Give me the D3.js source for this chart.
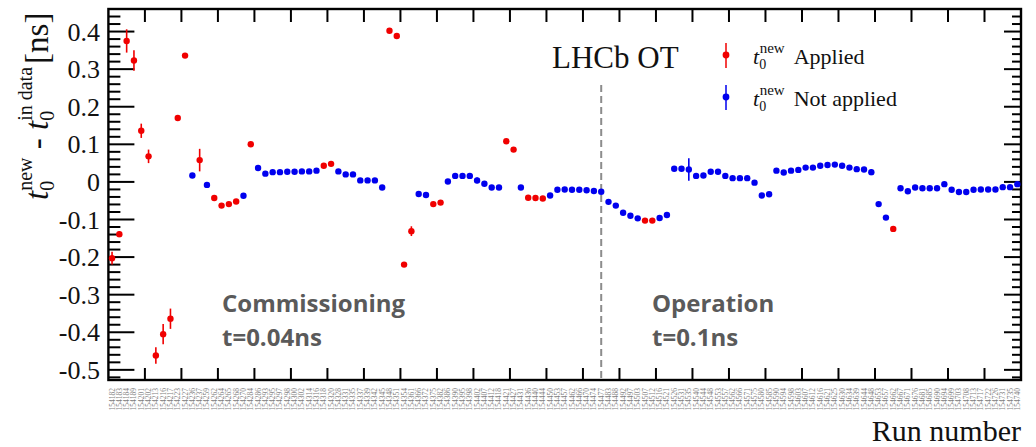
<!DOCTYPE html>
<html>
<head>
<meta charset="utf-8">
<script src="https://cdn.jsdelivr.net/npm/d3@7"></script>
<style>
  html, body { margin: 0; padding: 0; background: #fff; }
  svg { display: block; }
</style>
</head>
<body>
<svg id="chart" width="1036" height="447"></svg>
<script>
// Run numbers on the horizontal axis (one bin per run)
const runs = [
  "154182","154183","154184","154189","154201","154202","154213","154216","154217","154223",
  "154227","154236","154237","154259","154262","154264","154265","154268","154270","154284",
  "154286","154293","154295","154297","154298","154300","154302","154314","154316","154318",
  "154320","154328","154331","154335","154337","154339","154342","154345","154348","154351",
  "154354","154361","154366","154372","154375","154382","154386","154390","154395","154398",
  "154402","154407","154412","154418","154421","154427","154431","154436","154440","154444",
  "154450","154453","154457","154462","154466","154470","154474","154477","154483","154488",
  "154492","154497","154503","154507","154512","154516","154521","154526","154531","154535",
  "154540","154544","154548","154553","154557","154562","154566","154571","154575","154580",
  "154585","154590","154594","154598","154603","154607","154612","154616","154621","154625",
  "154630","154634","154639","154644","154648","154653","154657","154662","154667","154671",
  "154676","154681","154685","154690","154694","154699","154703","154708","154713","154717",
  "154722","154726","154731","154735","154740"
];

// t0(new) - t0(in data) per run, in ns
const offsets = [
  -0.203,-0.139, 0.375, 0.323, 0.136, 0.068,-0.462,-0.405,-0.364, 0.170,
   0.336, 0.017, 0.058,-0.008,-0.043,-0.063,-0.059,-0.052,-0.037, 0.100,
   0.037, 0.022, 0.026, 0.026, 0.027, 0.027, 0.028, 0.028, 0.030, 0.043,
   0.048, 0.028, 0.020, 0.020, 0.004, 0.004, 0.004,-0.015, 0.402, 0.388,
  -0.220,-0.131,-0.032,-0.035,-0.059,-0.055, 0.001, 0.016, 0.016, 0.016,
   0.004,-0.005,-0.015,-0.015, 0.108, 0.086,-0.015,-0.042,-0.043,-0.044,
  -0.036,-0.021,-0.020,-0.021,-0.021,-0.022,-0.024,-0.026,-0.053,-0.063,
  -0.082,-0.090,-0.097,-0.103,-0.103,-0.096,-0.088, 0.035, 0.035, 0.033,
   0.016, 0.017, 0.027, 0.027, 0.016, 0.010, 0.010, 0.010,-0.002,-0.036,
  -0.033, 0.030, 0.025, 0.030, 0.032, 0.038, 0.038, 0.043, 0.045, 0.046,
   0.043, 0.038, 0.034, 0.033, 0.026,-0.059,-0.095,-0.125,-0.017,-0.025,
  -0.015,-0.017,-0.017,-0.017,-0.006,-0.021,-0.027,-0.027,-0.021,-0.020,
  -0.020,-0.020,-0.014,-0.014,-0.006
];

// Statistical uncertainty on each offset, in ns
const errors = [
  0.017,0.008,0.031,0.027,0.019,0.018,0.022,0.027,0.027,0.008,
  0.006,0.004,0.030,0.004,0.005,0.005,0.005,0.005,0.004,0.006,
  0.004,0.003,0.003,0.003,0.003,0.003,0.003,0.003,0.003,0.004,
  0.004,0.003,0.003,0.003,0.003,0.003,0.003,0.004,0.005,0.005,
  0.006,0.013,0.004,0.004,0.005,0.005,0.004,0.003,0.003,0.003,
  0.008,0.003,0.003,0.003,0.005,0.005,0.003,0.004,0.004,0.004,
  0.003,0.003,0.003,0.003,0.003,0.003,0.003,0.003,0.003,0.003,
  0.003,0.003,0.003,0.004,0.004,0.003,0.003,0.004,0.004,0.030,
  0.004,0.003,0.003,0.003,0.003,0.003,0.003,0.003,0.003,0.004,
  0.004,0.003,0.003,0.003,0.003,0.003,0.003,0.003,0.003,0.003,
  0.003,0.003,0.003,0.003,0.008,0.005,0.004,0.004,0.003,0.003,
  0.003,0.003,0.003,0.003,0.003,0.003,0.003,0.003,0.003,0.003,
  0.003,0.003,0.003,0.003,0.004
];

// 1 = new t0 applied, 0 = not applied
const applied = [
  1,1,1,1,1,1,1,1,1,1,
  1,0,1,0,1,1,1,1,0,1,
  0,0,0,0,0,0,0,0,0,1,
  1,0,0,0,0,0,0,0,1,1,
  1,1,0,0,1,1,0,0,0,0,
  0,0,0,0,1,1,0,1,1,1,
  0,0,0,0,0,0,0,0,0,0,
  0,0,0,1,1,0,0,0,0,0,
  0,0,0,0,0,0,0,0,0,0,
  0,0,0,0,0,0,0,0,0,0,
  0,0,0,0,0,0,0,1,0,0,
  0,0,0,0,0,0,0,0,0,0,
  0,0,0,0,0
];

const yTicks = [-0.5, -0.4, -0.3, -0.2, -0.1, 0, 0.1, 0.2, 0.3, 0.4];
const yTickLabels = ["-0.5","-0.4","-0.3","-0.2","-0.1","0","0.1","0.2","0.3","0.4"];
const yDomain = [-0.527, 0.46];
const boundaryRun = "154477";   // first run of the operation period

const COLOR_APPLIED = "#f00000";
const COLOR_NOT = "#0000ee";
const serif = "'Liberation Serif', 'DejaVu Serif', serif";
const sans = "'Open Sans', Lato, sans-serif";

const frame = { left: 108.4, right: 1021, top: 9, bottom: 380 };

const svg = d3.select("#chart");

const x = d3.scaleBand().domain(runs).range([frame.left, frame.right]).padding(0);
const y = d3.scaleLinear().domain(yDomain).range([frame.bottom, frame.top]);
const cx = r => x(r) + x.bandwidth() / 2;

const points = runs.map((r, i) => ({ run: r, v: offsets[i], e: errors[i], a: applied[i] === 1 }));

// x axis ticks every fifth run, bottom and top
const xTickRuns = runs.filter((d, i) => i > 0 && i % 5 === 0);
const gx = svg.append("g");
gx.selectAll("line.bt").data(xTickRuns).join("line")
  .attr("x1", d => x(d)).attr("x2", d => x(d))
  .attr("y1", frame.bottom).attr("y2", frame.bottom - 12)
  .attr("stroke", "#000").attr("stroke-width", 2);
gx.selectAll("line.tp").data(xTickRuns).join("line")
  .attr("x1", d => x(d)).attr("x2", d => x(d))
  .attr("y1", frame.top).attr("y2", frame.top + 13)
  .attr("stroke", "#000").attr("stroke-width", 2);

// y axis: major and minor ticks on both sides
const minorTicks = d3.range(-0.52, 0.46, 0.02).map(v => +v.toFixed(2))
  .filter(v => yTicks.every(t => Math.abs(t - v) > 1e-6));
const gy = svg.append("g");
gy.selectAll("line.lmaj").data(yTicks).join("line")
  .attr("x1", frame.left).attr("x2", frame.left + 26)
  .attr("y1", d => y(d)).attr("y2", d => y(d))
  .attr("stroke", "#000").attr("stroke-width", 2);
gy.selectAll("line.lmin").data(minorTicks).join("line")
  .attr("x1", frame.left).attr("x2", frame.left + 12)
  .attr("y1", d => y(d)).attr("y2", d => y(d))
  .attr("stroke", "#000").attr("stroke-width", 2);
gy.selectAll("line.rmaj").data(yTicks).join("line")
  .attr("x1", frame.right).attr("x2", frame.right - 17)
  .attr("y1", d => y(d)).attr("y2", d => y(d))
  .attr("stroke", "#000").attr("stroke-width", 2);
gy.selectAll("line.rmin").data(minorTicks).join("line")
  .attr("x1", frame.right).attr("x2", frame.right - 9)
  .attr("y1", d => y(d)).attr("y2", d => y(d))
  .attr("stroke", "#000").attr("stroke-width", 2);

gy.selectAll("text.yl").data(yTicks).join("text")
  .attr("x", 100).attr("y", d => y(d)).attr("dy", "0.35em")
  .attr("text-anchor", "end")
  .attr("font-family", serif).attr("font-size", 26).attr("fill", "#111")
  .text((d, i) => yTickLabels[i]);

// run-number labels under each bin
svg.append("g").selectAll("text").data(runs).join("text")
  .attr("transform", d => `translate(${cx(d) + 2.5},388) rotate(-90)`)
  .attr("text-anchor", "end")
  .attr("font-family", serif).attr("font-size", 7.5).attr("fill", "#808080")
  .text(d => d);

// frame
svg.append("rect")
  .attr("x", frame.left).attr("y", frame.top)
  .attr("width", frame.right - frame.left).attr("height", frame.bottom - frame.top)
  .attr("fill", "none").attr("stroke", "#000").attr("stroke-width", 2.4);

// commissioning / operation boundary
const xb = cx(boundaryRun);
svg.append("line")
  .attr("x1", xb).attr("x2", xb).attr("y1", 85).attr("y2", frame.bottom)
  .attr("stroke", "#8c8c8c").attr("stroke-width", 2).attr("stroke-dasharray", "7,4");

// data points with error bars
const gp = svg.append("g");
gp.selectAll("line").data(points).join("line")
  .attr("x1", d => cx(d.run)).attr("x2", d => cx(d.run))
  .attr("y1", d => y(d.v - d.e)).attr("y2", d => y(d.v + d.e))
  .attr("stroke", d => d.a ? COLOR_APPLIED : COLOR_NOT).attr("stroke-width", 1.6);
gp.selectAll("circle").data(points).join("circle")
  .attr("cx", d => cx(d.run)).attr("cy", d => y(d.v)).attr("r", 3.2)
  .attr("fill", d => d.a ? COLOR_APPLIED : COLOR_NOT);

// "LHCb OT"
svg.append("text").attr("x", 552).attr("y", 68)
  .attr("font-family", serif).attr("font-size", 31).attr("fill", "#111")
  .text("LHCb OT");

// legend
const legend = [
  { label: "Applied", color: COLOR_APPLIED, y: 55 },
  { label: "Not applied", color: COLOR_NOT, y: 97 }
];
const lg = svg.append("g").selectAll("g").data(legend).join("g");
lg.append("line").attr("x1", 726).attr("x2", 726)
  .attr("y1", d => d.y - 12).attr("y2", d => d.y + 13)
  .attr("stroke", d => d.color).attr("stroke-width", 1.5);
lg.append("circle").attr("cx", 726).attr("cy", d => d.y).attr("r", 3.4).attr("fill", d => d.color);
const lt = lg.append("text").attr("x", 753).attr("y", d => d.y + 9)
  .attr("font-family", serif).attr("font-size", 22).attr("fill", "#111");
lt.append("tspan").attr("font-style", "italic").text("t");
lt.append("tspan").attr("font-size", 14).attr("dy", 5).text("0");
lt.append("tspan").attr("font-size", 15).attr("dx", -6.5).attr("dy", -16).text("new");
lt.append("tspan").attr("dx", 9).attr("dy", 11).text(d => d.label);

// period annotations
const notes = [
  { x: 222, y: 312, text: "Commissioning" },
  { x: 222, y: 346, text: "t=0.04ns" },
  { x: 652, y: 312, text: "Operation" },
  { x: 652, y: 346, text: "t=0.1ns" }
];
svg.append("g").selectAll("text").data(notes).join("text")
  .attr("x", d => d.x).attr("y", d => d.y)
  .attr("font-family", sans).attr("font-weight", "bold").attr("font-size", 24)
  .attr("fill", "#5a5a5a")
  .text(d => d.text);

// axis titles
svg.append("text").attr("x", frame.right).attr("y", 441)
  .attr("text-anchor", "end")
  .attr("font-family", serif).attr("font-size", 30).attr("fill", "#111")
  .text("Run number");

const yt = svg.append("text")
  .attr("transform", "translate(48,200) rotate(-90)")
  .attr("font-family", serif).attr("font-size", 33).attr("fill", "#111");
yt.append("tspan").attr("font-style", "italic").text("t");
yt.append("tspan").attr("font-size", 20).attr("dy", 6).text("0");
yt.append("tspan").attr("font-size", 20).attr("dx", -10).attr("dy", -22).text("new");
yt.append("tspan").attr("dy", 16).text("\u00a0-\u00a0");
yt.append("tspan").attr("font-style", "italic").text("t");
yt.append("tspan").attr("font-size", 20).attr("dy", 6).text("0");
yt.append("tspan").attr("font-size", 20).attr("dx", -10).attr("dy", -22).text("in data");
yt.append("tspan").attr("dx", 3).attr("dy", 16).text("[ns]");
</script>
</body>
</html>
